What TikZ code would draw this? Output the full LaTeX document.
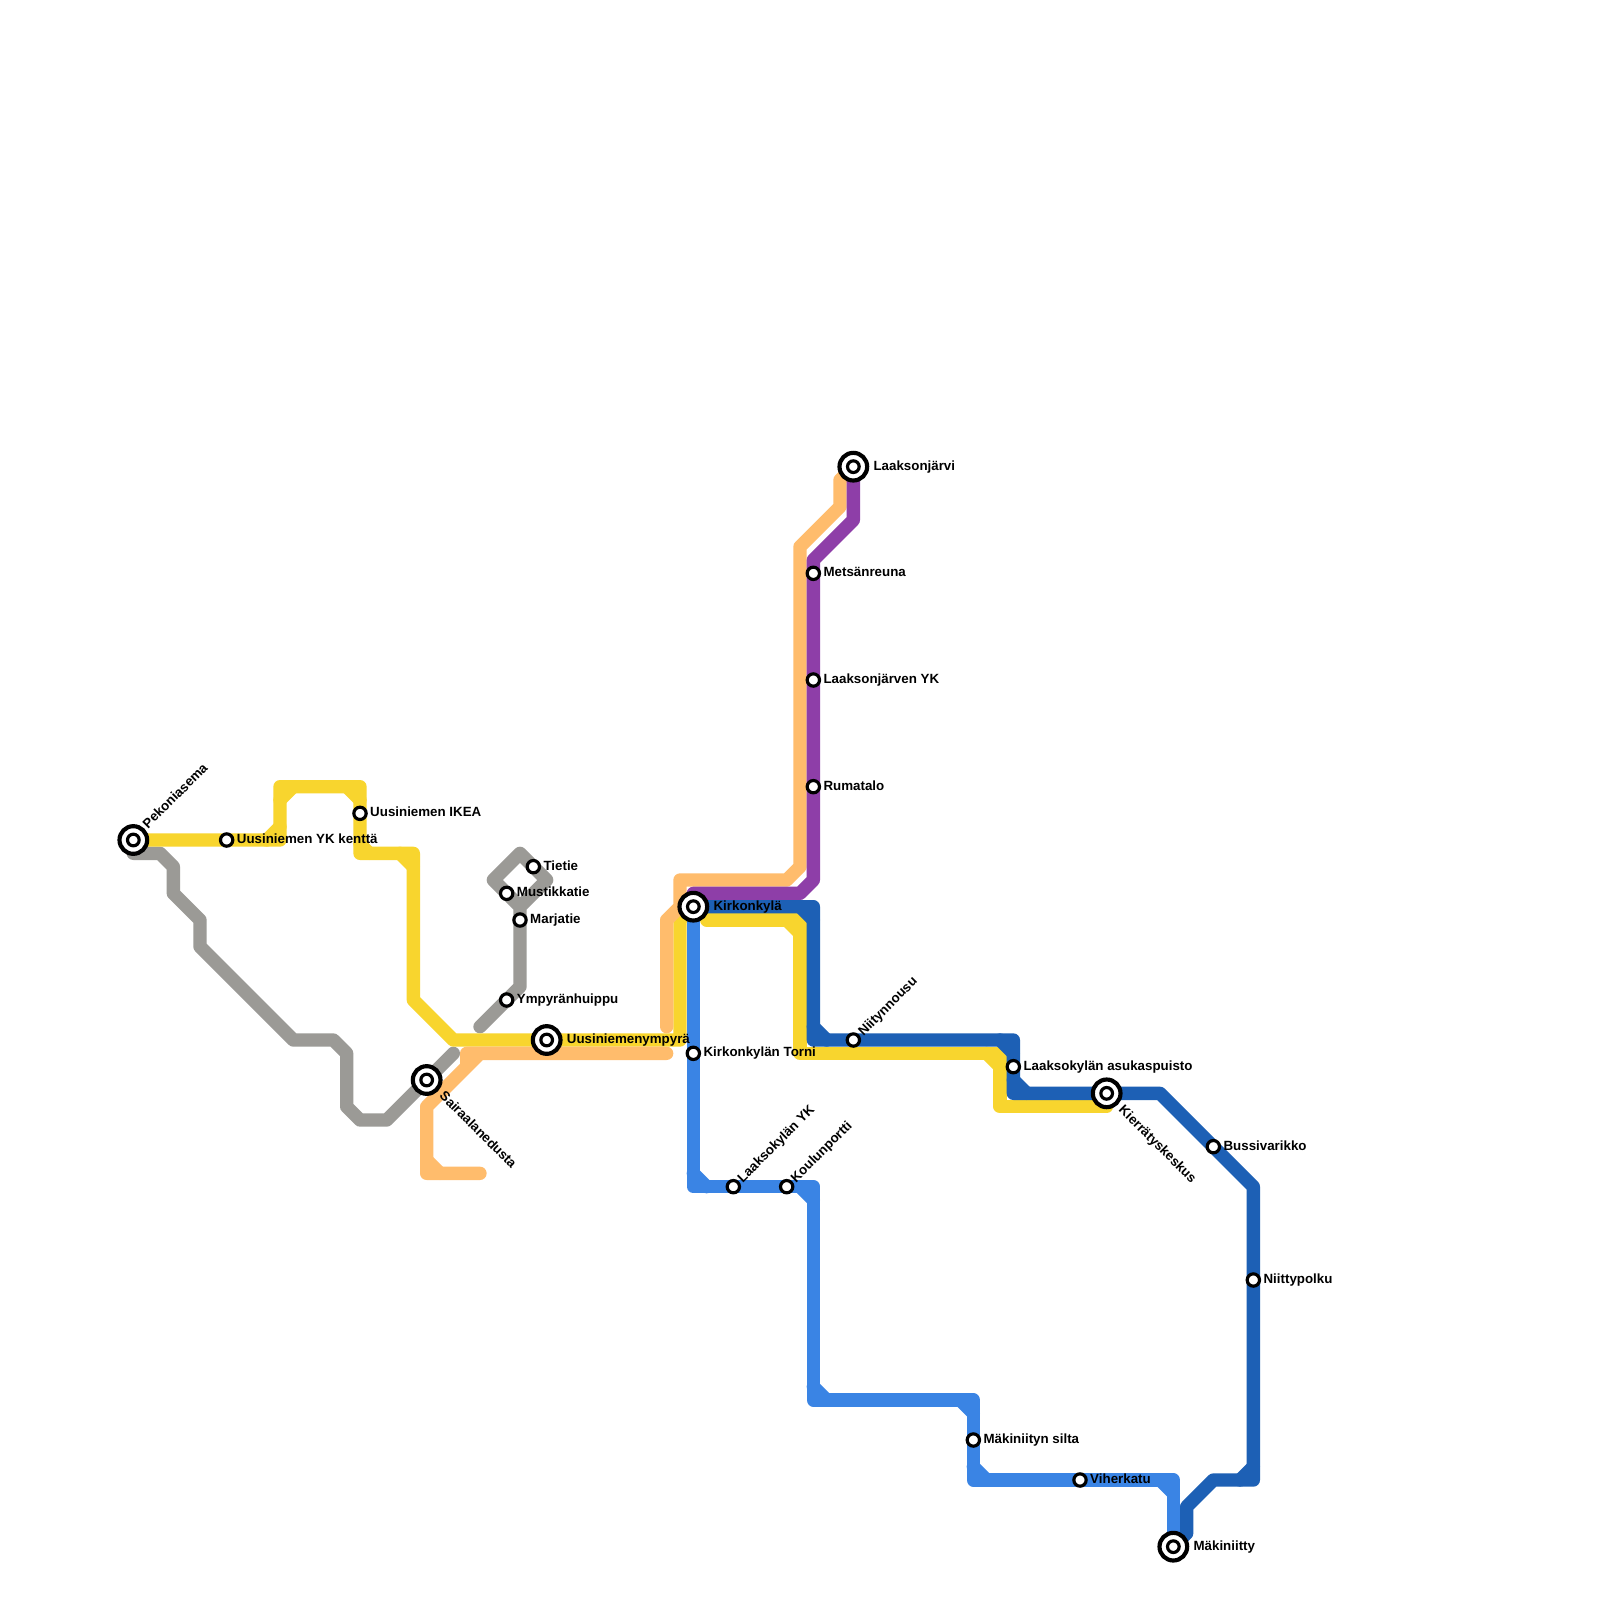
\documentclass[tikz,border=0pt]{standalone}
\usepackage{fontspec}
\setmainfont{Liberation Sans}
\definecolor{cgray}{HTML}{9B9A96}
\definecolor{cyellow}{HTML}{F8D52E}
\definecolor{corange}{HTML}{FFBC6C}
\definecolor{cpurple}{HTML}{8E3EA8}
\definecolor{cdblue}{HTML}{1D60B5}
\definecolor{clblue}{HTML}{3A84E4}
\tikzset{
  metro/.style={line width=0.4cm,line cap=round,line join=round},
  stnring/.style={draw=black,fill=white,line width=0.095cm},
  stnouter/.style={draw=black,fill=white,line width=0.125cm},
  lbl/.style={inner sep=0pt,anchor=base west,font=\bfseries\fontsize{11.38pt}{13pt}\selectfont,text=black},
}
\newcommand{\stnS}[2]{\coordinate (#1) at (#2); \draw[stnring] (#1) circle [radius=0.185cm];}
\newcommand{\stnB}[2]{\coordinate (#1) at (#2); \draw[stnouter] (#1) circle [radius=0.415cm]; \draw[stnring] (#1) circle [radius=0.175cm];}
\begin{document}
\begin{tikzpicture}[x=0.4cm,y=-0.4cm]
\useasboundingbox (0,0) rectangle (120,120);
\fill[white] (0,0) rectangle (120,120);
% gray
\draw[metro,cgray] (10,64)--(12,64)--(13,65)--(13,67)--(15,69)--(15,71)--(22,78)--(25,78)--(26,79)--(26,83)--(27,84)--(29,84)--(34,79);
\draw[metro,cgray] (36,77)--(39,74)--(39,68)--(41,66)--(39,64)--(37,66)--(39,68);
% yellow
\draw[metro,cyellow] (10,63)--(21,63)--(21,59)--(27,59)--(27,64)--(31,64)--(31,75)--(34,78)--(51,78)--(51,69)--(52,68);
\draw[metro,cyellow] (20,63)--(21,62) (21,60)--(22,59) (26,59)--(27,60) (27,63.3)--(27.7,64) (30,64)--(31,65);
\draw[metro,cyellow] (53,69)--(60,69)--(60,79)--(75,79)--(75,83)--(83,83)--(83,82);
\draw[metro,cyellow] (59,69)--(60,70) (74,79)--(75,80);
% orange
\draw[metro,corange] (36,88)--(32,88)--(32,83)--(36,79) (35,80)--(35,79)--(50,79);
\draw[metro,corange] (32,87)--(33,88);
\draw[metro,corange] (50,77)--(50,69)--(51,68)--(51,66)--(59,66)--(60,65)--(60,41)--(63,38)--(63,36)--(64,35);
% purple
\draw[metro,cpurple] (64,35)--(64,39)--(61,42)--(61,66)--(60,67)--(52,67);
% dark blue
\draw[metro,cdblue] (52,68)--(61,68)--(61,78)--(76,78)--(76,82)--(87,82)--(94,89)--(94,111)--(91,111)--(89,113)--(89,115)--(88,116);
\draw[metro,cdblue] (60,68)--(61,69) (61,77)--(62,78) (75,78)--(76,79) (76,81)--(77,82) (94,110)--(93,111);
% light blue
\draw[metro,clblue] (52,68)--(52,89)--(61,89)--(61,105)--(73,105)--(73,111)--(88,111)--(88,116);
\draw[metro,clblue] (52,88)--(53,89) (60,89)--(61,90) (61,104)--(62,105) (72,105)--(73,106) (73,110)--(74,111) (87,111)--(88,112);
% stations
\stnB{pek}{10,63}
\stnS{uyk}{17,63}
\stnS{uik}{27,61}
\stnB{sai}{32,81}
\stnS{tie}{40,65}
\stnS{mus}{38,67}
\stnS{mar}{39,69}
\stnS{ymp}{38,75}
\stnB{uym}{41,78}
\stnB{kir}{52,68}
\stnS{kto}{52,79}
\stnS{lyk}{55,89}
\stnS{kou}{59,89}
\stnB{laj}{64,35}
\stnS{met}{61,43}
\stnS{lyj}{61,51}
\stnS{rum}{61,59}
\stnS{nii}{64,78}
\stnS{las}{76,80}
\stnB{kie}{83,82}
\stnS{bus}{91,86}
\stnS{npo}{94,96}
\stnS{msi}{73,108}
\stnS{vih}{81,111}
\stnB{mak}{88,116}
% labels
\node[lbl,rotate=45] (tpek) at (11.1,62.2) {Pekoniasema};
\node[lbl] (tuyk) at (17.75,63.25) {Uusiniemen YK kenttä};
\node[lbl] (tuik) at (27.75,61.25) {Uusiniemen IKEA};
\node[lbl,rotate=-45] (tsai) at (32.9,82.25) {Sairaalanedusta};
\node[lbl] (ttie) at (40.75,65.25) {Tietie};
\node[lbl] (tmus) at (38.75,67.25) {Mustikkatie};
\node[lbl] (tmar) at (39.75,69.25) {Marjatie};
\node[lbl] (tymp) at (38.75,75.25) {Ympyränhuippu};
\node[lbl] (tuym) at (42.5,78.25) {Uusiniemenympyrä};
\node[lbl] (tkir) at (53.5,68.25) {Kirkonkylä};
\node[lbl] (tkto) at (52.75,79.25) {Kirkonkylän Torni};
\node[lbl,rotate=45] (tlyk) at (55.7,88.75) {Laaksokylän YK};
\node[lbl,rotate=45] (tkou) at (59.7,88.75) {Koulunportti};
\node[lbl] (tlaj) at (65.5,35.25) {Laaksonjärvi};
\node[lbl] (tmet) at (61.75,43.25) {Metsänreuna};
\node[lbl] (tlyj) at (61.75,51.25) {Laaksonjärven YK};
\node[lbl] (trum) at (61.75,59.25) {Rumatalo};
\node[lbl,rotate=45] (tnii) at (64.75,77.75) {Niitynnousu};
\node[lbl] (tlas) at (76.75,80.25) {Laaksokylän asukaspuisto};
\node[lbl,rotate=-45] (tkie) at (83.85,83.3) {Kierrätyskeskus};
\node[lbl] (tbus) at (91.75,86.25) {Bussivarikko};
\node[lbl] (tnpo) at (94.75,96.25) {Niittypolku};
\node[lbl] (tmsi) at (73.75,108.25) {Mäkiniityn silta};
\node[lbl] (tvih) at (81.75,111.25) {Viherkatu};
\node[lbl] (tmak) at (89.5,116.25) {Mäkiniitty};
\end{tikzpicture}
\end{document}
